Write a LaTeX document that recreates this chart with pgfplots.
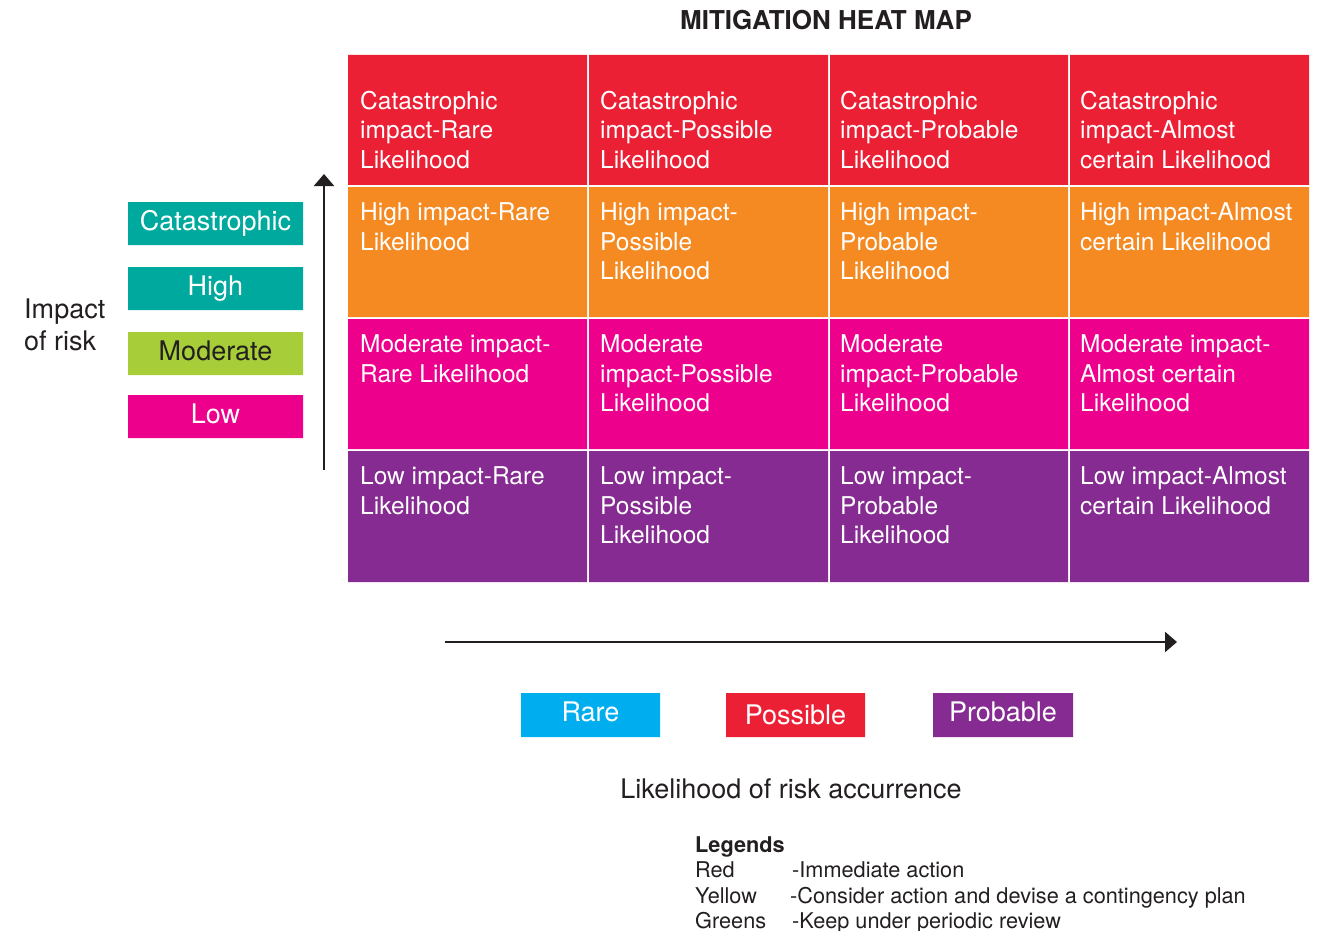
\documentclass[border=0pt]{standalone}
\usepackage{pgfplots}
\pgfplotsset{compat=1.18}
\usepackage{fontspec}
\setmainfont{TeX Gyre Heros}
\usetikzlibrary{arrows.meta}
\definecolor{cred}{HTML}{EC2035}
\definecolor{corange}{HTML}{F58A22}
\definecolor{cmag}{HTML}{EC008C}
\definecolor{cpurple}{HTML}{852B91}
\definecolor{cteal}{HTML}{00A99D}
\definecolor{cgreen}{HTML}{A7CE39}
\definecolor{cblue}{HTML}{00AEEF}
\definecolor{cdark}{HTML}{231F20}
\newcommand{\rect}[5]{\addplot[fill=#1, draw=none] coordinates {(#2,#3) (#4,#3) (#4,#5) (#2,#5) (#2,#3)};}
\newcommand{\cell}[5]{%
  \node[anchor=base west, inner sep=0pt, text=white, font=\fontsize{24.5}{28}\selectfont] at (axis cs:#1,#2) {#3};
  \node[anchor=base west, inner sep=0pt, text=white, font=\fontsize{24.5}{28}\selectfont] at (axis cs:#1,#2+29.5) {#4};
  \node[anchor=base west, inner sep=0pt, text=white, font=\fontsize{24.5}{28}\selectfont] at (axis cs:#1,#2+59) {#5};}
\begin{document}
\begin{tikzpicture}
\begin{axis}[
  scale only axis, width=1323pt, height=931pt,
  xmin=0, xmax=1323, ymin=0, ymax=931, y dir=reverse,
  hide axis, clip=false]
% heat map cells: columns Rare, Possible, Probable, Almost certain; rows Catastrophic..Low
\rect{cred}{348}{55}{587}{185}
\rect{cred}{589}{55}{828}{185}
\rect{cred}{830}{55}{1068}{185}
\rect{cred}{1070}{55}{1309}{185}
\rect{corange}{348}{187}{587}{317}
\rect{corange}{589}{187}{828}{317}
\rect{corange}{830}{187}{1068}{317}
\rect{corange}{1070}{187}{1309}{317}
\rect{cmag}{348}{319}{587}{449}
\rect{cmag}{589}{319}{828}{449}
\rect{cmag}{830}{319}{1068}{449}
\rect{cmag}{1070}{319}{1309}{449}
\rect{cpurple}{348}{451}{587}{582}
\rect{cpurple}{589}{451}{828}{582}
\rect{cpurple}{830}{451}{1068}{582}
\rect{cpurple}{1070}{451}{1309}{582}
% impact boxes
\rect{cteal}{128}{202}{303}{245}
\rect{cteal}{128}{267}{303}{310}
\rect{cgreen}{128}{332}{303}{375}
\rect{cmag}{128}{395}{303}{438}
% likelihood boxes
\rect{cblue}{521}{693}{660}{737}
\rect{cred}{726}{693}{865}{737}
\rect{cpurple}{933}{693}{1073}{737}

\cell{360}{109.5}{Catastrophic}{impact-Rare}{Likelihood}
\cell{600}{109.5}{Catastrophic}{impact-Possible}{Likelihood}
\cell{840}{109.5}{Catastrophic}{impact-Probable}{Likelihood}
\cell{1080}{109.5}{Catastrophic}{impact-Almost}{certain Likelihood}
\cell{360}{220.5}{High impact-Rare}{Likelihood}{}
\cell{600}{220.5}{High impact-}{Possible}{Likelihood}
\cell{840}{220.5}{High impact-}{Probable}{Likelihood}
\cell{1080}{220.5}{High impact-Almost}{certain Likelihood}{}
\cell{360}{352.5}{Moderate impact-}{Rare Likelihood}{}
\cell{600}{352.5}{Moderate}{impact-Possible}{Likelihood}
\cell{840}{352.5}{Moderate}{impact-Probable}{Likelihood}
\cell{1080}{352.5}{Moderate impact-}{Almost certain}{Likelihood}
\cell{360}{484.5}{Low impact-Rare}{Likelihood}{}
\cell{600}{484.5}{Low impact-}{Possible}{Likelihood}
\cell{840}{484.5}{Low impact-}{Probable}{Likelihood}
\cell{1080}{484.5}{Low impact-Almost}{certain Likelihood}{}

% title
\node[anchor=base, inner sep=0pt, text=cdark, font=\fontsize{26}{30}\bfseries] at (axis cs:826,30) {MITIGATION HEAT MAP};

% impact labels
\begin{scope}[every node/.style={anchor=base, inner sep=0pt, font=\fontsize{27}{31}\selectfont}]
\node[text=white] at (axis cs:215.5,230) {Catastrophic};
\node[text=white] at (axis cs:215.5,295) {High};
\node[text=cdark] at (axis cs:215.5,360) {Moderate};
\node[text=white] at (axis cs:215.5,423) {Low};
\node[text=white] at (axis cs:590.5,721) {Rare};
\node[text=white] at (axis cs:795.5,724) {Possible};
\node[text=white] at (axis cs:1003,721) {Probable};
\node[text=cdark] at (axis cs:791,798) {Likelihood of risk accurrence};
\end{scope}
\node[anchor=base west, inner sep=0pt, text=cdark, font=\fontsize{27}{31}\selectfont] at (axis cs:24,318) {Impact};
\node[anchor=base west, inner sep=0pt, text=cdark, font=\fontsize{27}{31}\selectfont] at (axis cs:24,350) {of risk};

% arrows
\draw[cdark, line width=2.4pt, -{Triangle[length=12pt,width=20pt]}] (axis cs:324,470) -- (axis cs:324,174);
\draw[cdark, line width=2.4pt, -{Triangle[length=12pt,width=20pt]}] (axis cs:445,642) -- (axis cs:1177,642);

% legends
\begin{scope}[every node/.style={anchor=base west, inner sep=0pt, text=cdark, font=\fontsize{21.7}{26}\selectfont}]
\node[font=\fontsize{21.7}{26}\bfseries] at (axis cs:695,852) {Legends};
\node at (axis cs:695,877) {Red};
\node at (axis cs:695,903) {Yellow};
\node at (axis cs:695,928) {Greens};
\node at (axis cs:792,877) {-Immediate action};
\node at (axis cs:790,903) {-Consider action and devise a contingency plan};
\node at (axis cs:792,928) {-Keep under periodic review};
\end{scope}
\end{axis}
\pgfresetboundingbox
\useasboundingbox (current axis.south west) rectangle (current axis.north east);
\end{tikzpicture}
\end{document}
